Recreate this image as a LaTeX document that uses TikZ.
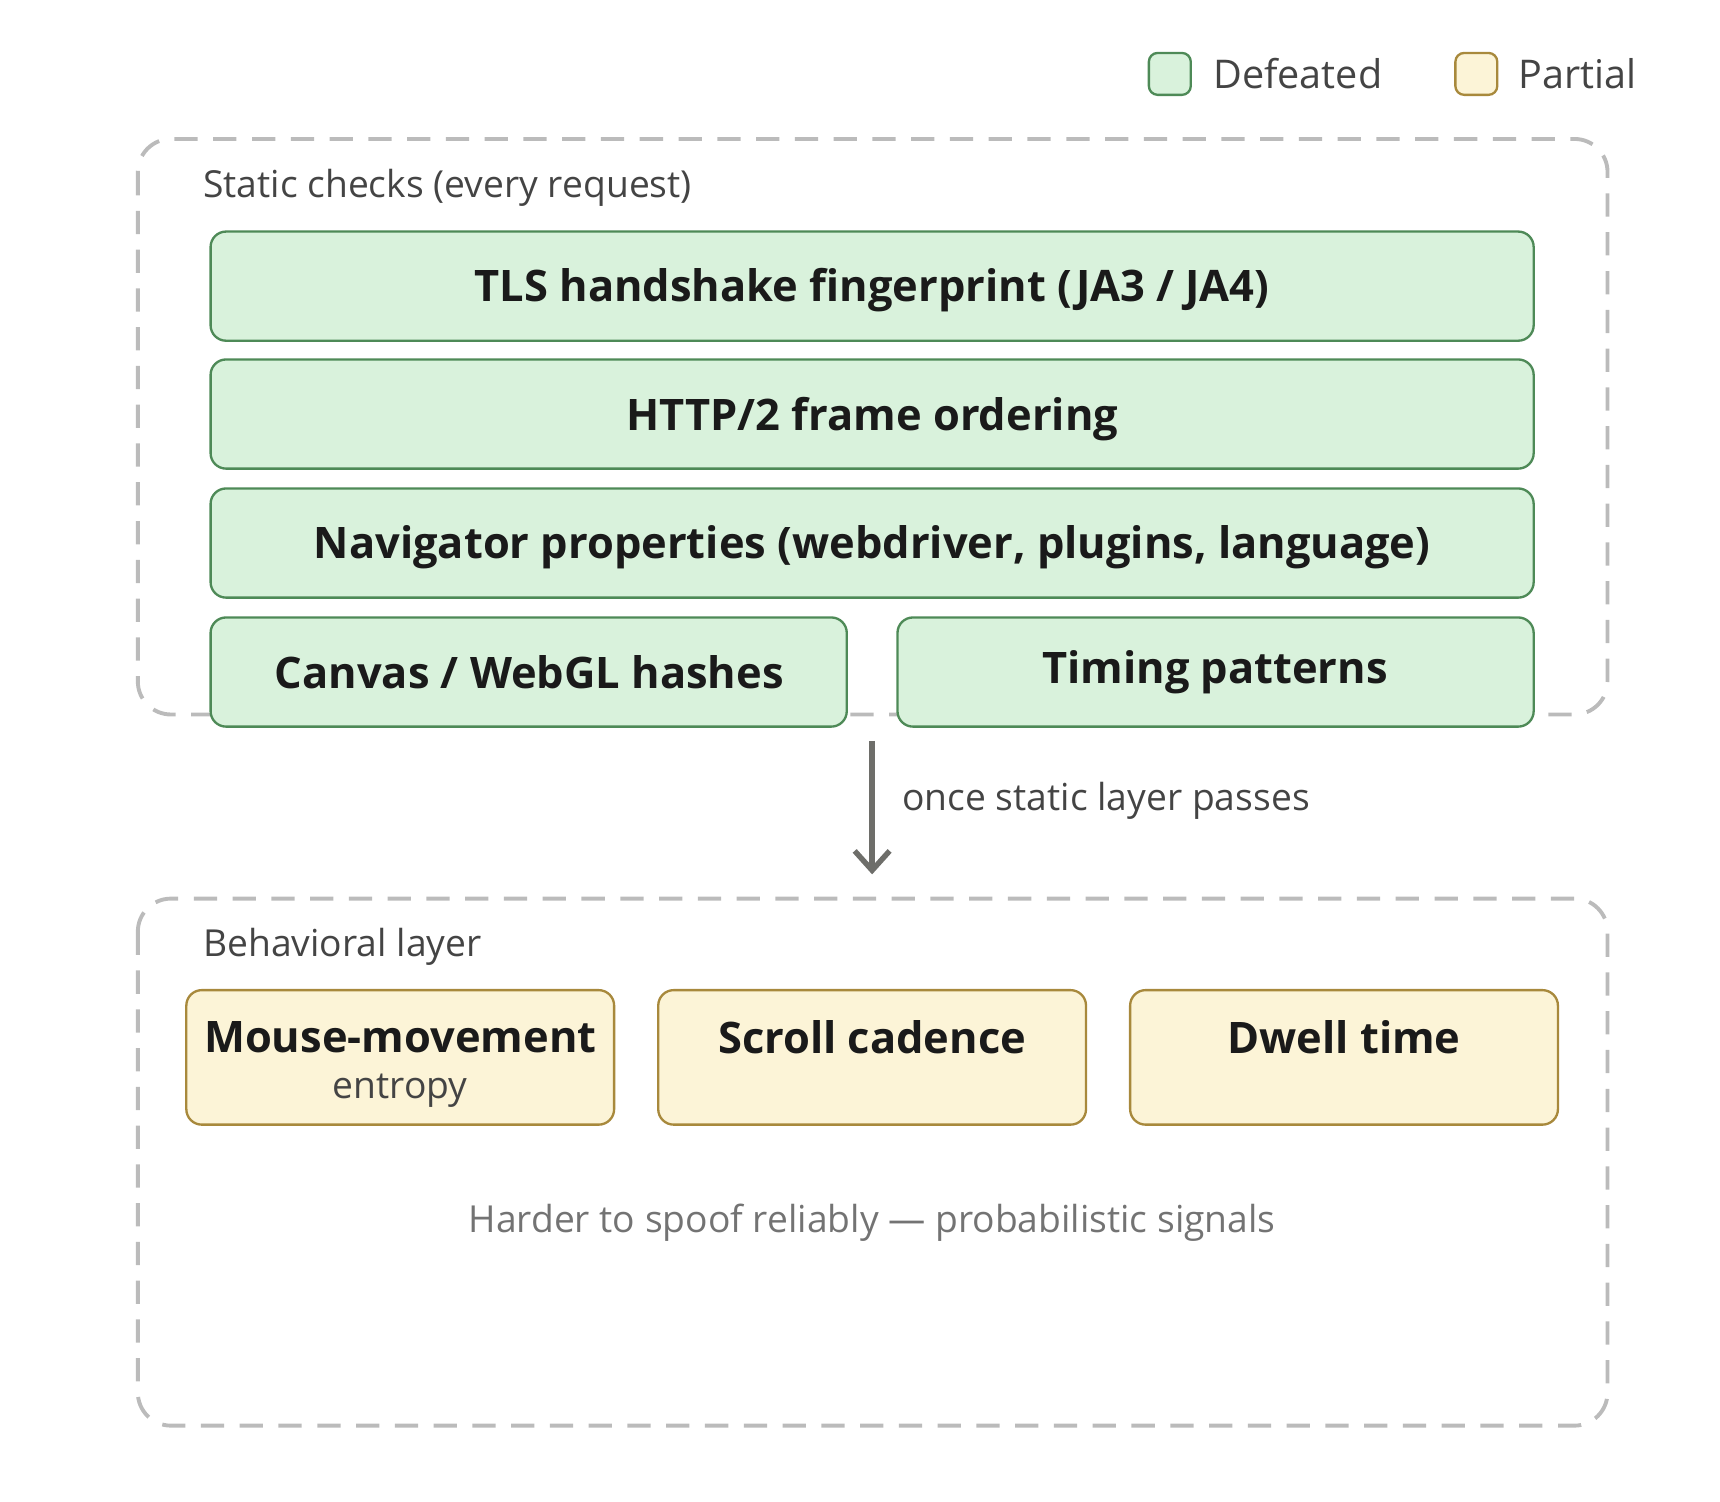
\documentclass[tikz,border=0pt]{standalone}
\usepackage{fontspec}
\setmainfont{Open Sans}
\usetikzlibrary{arrows.meta}
\definecolor{gfill}{HTML}{D9F2DC}
\definecolor{gdraw}{HTML}{4E8A57}
\definecolor{yfill}{HTML}{FCF4D7}
\definecolor{ydraw}{HTML}{A8893C}
\definecolor{dash}{HTML}{BBBBBB}
\definecolor{txt}{HTML}{1A1A1A}
\definecolor{lbl}{HTML}{444444}
\definecolor{arr}{HTML}{6E6E6A}
\begin{document}
\begin{tikzpicture}[x=0.01cm,y=-0.01cm,
  grp/.style={draw=dash,line width=1pt,dash pattern=on 6pt off 4pt,rounded corners=0.3cm},
  gbox/.style={draw=gdraw,fill=gfill,line width=0.6pt,rounded corners=0.14cm},
  ybox/.style={draw=ydraw,fill=yfill,line width=0.6pt,rounded corners=0.14cm},
  btxt/.style={font=\fontsize{11.2}{13}\selectfont\bfseries,text=txt},
  ltxt/.style={font=\fontsize{9.6}{12}\selectfont,text=lbl,anchor=west}]
\useasboundingbox (0,0) rectangle (1560,1362);
% legend
\node[gbox,minimum width=0.38cm,minimum height=0.38cm,rounded corners=0.08cm] (lg) at (1061,67) {};
\node[ltxt,font=\fontsize{10.2}{12}\selectfont] (lgt) at (1088,67) {Defeated};
\node[ybox,minimum width=0.38cm,minimum height=0.38cm,rounded corners=0.08cm] (ly) at (1339,67) {};
\node[ltxt,font=\fontsize{10.2}{12}\selectfont] (lyt) at (1365,67) {Partial};
% groups
\draw[grp] (125,126) rectangle (1458,648);
\node[ltxt] (st) at (172,170) {Static checks (every request)};
\draw[grp] (125,815) rectangle (1458,1293);
\node[ltxt] (bt) at (172,859) {Behavioral layer};
% green boxes
\draw[gbox] (191,210) rectangle (1391,309); \node[btxt] (tls) at (791,263) {TLS handshake fingerprint (JA3 / JA4)};
\draw[gbox] (191,326) rectangle (1391,425); \node[btxt] (http) at (791,380) {HTTP/2 frame ordering};
\draw[gbox] (191,443) rectangle (1391,542); \node[btxt] (nav) at (791,496) {Navigator properties (webdriver, plugins, language)};
\draw[gbox] (191,560) rectangle (768,659); \node[btxt] (can) at (480,610) {Canvas / WebGL hashes};
\draw[gbox] (814,560) rectangle (1391,659); \node[btxt] (tim) at (1102,610) {Timing patterns};
% arrow
\coordinate (a1) at (791,672); \coordinate (a2) at (791,793);
\draw[arr,line width=1.4pt,-{Straight Barb[length=5pt,width=9pt]}] (a1) -- (a2);
\node[ltxt] (al) at (806,726) {once static layer passes};
% yellow boxes
\draw[ybox] (169,898) rectangle (557,1020);
\node[btxt] (m1) at (363,941) {Mouse-movement};
\node[font=\fontsize{9.6}{12}\selectfont,text=lbl] (m2) at (363,989) {entropy};
\draw[ybox] (597,898) rectangle (985,1020); \node[btxt] (sc) at (791,941) {Scroll cadence};
\draw[ybox] (1025,898) rectangle (1413,1020); \node[btxt] (dw) at (1219,941) {Dwell time};
\node[font=\fontsize{9.6}{12}\selectfont,text=black!55] (hd) at (791,1109) {Harder to spoof reliably — probabilistic signals};
\end{tikzpicture}
\end{document}
